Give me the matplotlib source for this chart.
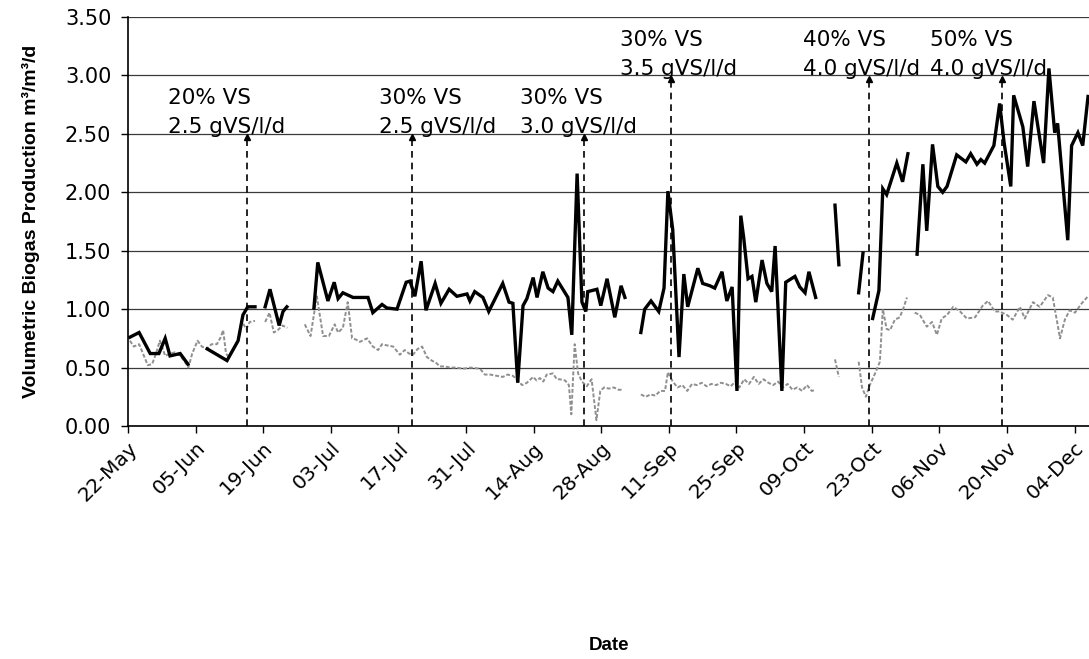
import numpy as np
import matplotlib
matplotlib.use("Agg")
import matplotlib.pyplot as plt

# x values are days after 22-May; None marks a gap in the record
black_day = [0.4, 2.3, 4.6, 6.4, 7.7, 8.7, 10.8, 12.4, None,
             16.4, 20.5, 22.8, 23.8, 24.8, 26.3, None,
             28.4, 29.4, 31.3, 32.1, 32.9, None,
             38.5, 39.3, 41.4, 42.7, 43.5, 44.5, 46.6, 49.7, 50.7, 52.6, 53.6, 55.7, 57.6, 58.4,
             59.4, 60.7, 61.7, 63.6, 64.8, 66.5, 68.1, 70.2, 70.8, 71.8, 73.5, 74.7, 77.6, 78.9,
             79.7, 80.7, 81.8, 82.6, 83.9, 84.7, 85.9, 87.0, 88.0, 89.0, 91.1, 91.9, 93.0, 94.0,
             94.8, 95.2, 97.1, 97.9, 99.2, 100.8, 102.1, 102.9, None,
             106.2, 107.0, 108.3, 109.9, 111.0, 111.8, 112.8, 114.1, 115.1, 115.9, 118.0, 119.0,
             120.5, 121.5, 123.0, 124.0, 125.1, 126.1, 126.9, 127.5, 128.4, 129.2, 130.0, 131.3,
             132.3, 133.3, 134.0, 135.4, 136.2, 138.1, 139.1, 140.2, 141.0, 142.4, None,
             146.4, 147.2, None,
             151.3, 152.2, None,
             154.2, 155.5, 156.3, 157.1, 159.2, 160.4, 161.5, None,
             163.4, 164.6, 165.4, 166.6, 167.7, 168.7, 169.6, 171.6, 173.5, 174.5, 175.8, 176.6,
             177.4, 179.3, 180.5, 181.4, 182.8, 183.4, 185.3, 186.3, 187.6, 189.6, 190.7, 191.9,
             192.5, 194.6, 195.4, 196.7, 197.7, 198.8]
black_val = [0.76, 0.80, 0.62, 0.62, 0.75, 0.60, 0.62, 0.53, None,
             0.66, 0.56, 0.73, 0.95, 1.02, 1.02, None,
             1.02, 1.17, 0.86, 0.98, 1.02, None,
             1.01, 1.40, 1.07, 1.23, 1.09, 1.14, 1.10, 1.10, 0.97, 1.04, 1.01, 1.00, 1.23, 1.24,
             1.11, 1.41, 0.99, 1.22, 1.05, 1.17, 1.11, 1.13, 1.07, 1.15, 1.10, 0.98, 1.22, 1.06,
             1.05, 0.37, 1.03, 1.09, 1.27, 1.10, 1.32, 1.18, 1.15, 1.24, 1.10, 0.78, 2.16, 1.06,
             0.98, 1.15, 1.17, 1.03, 1.26, 0.93, 1.20, 1.10, None,
             0.80, 1.00, 1.07, 0.98, 1.18, 2.01, 1.68, 0.59, 1.30, 1.02, 1.35, 1.22,
             1.20, 1.18, 1.32, 1.07, 1.19, 0.30, 1.80, 1.61, 1.26, 1.28, 1.06, 1.42,
             1.22, 1.15, 1.54, 0.30, 1.23, 1.28, 1.19, 1.14, 1.32, 1.10, None,
             1.89, 1.38, None,
             1.14, 1.48, None,
             0.92, 1.16, 2.03, 1.98, 2.25, 2.09, 2.33, None,
             1.47, 2.24, 1.67, 2.41, 2.05, 2.00, 2.05, 2.32, 2.26, 2.33, 2.24, 2.28,
             2.25, 2.40, 2.76, 2.43, 2.05, 2.83, 2.56, 2.22, 2.78, 2.25, 3.06, 2.51,
             2.59, 1.59, 2.40, 2.51, 2.40, 2.82]

gray_day = [0.4, 1.2, 2.3, 3.3, 4.1, 5.0, 5.8, 6.6, 7.7, 8.7, 9.7, 10.8, 11.6, 12.5, 13.3, 14.4,
            15.3, 16.3, 17.3, 18.4, 19.2, 19.7, 20.3, 20.9, 21.8, 22.8, 23.5, 24.5, 25.2, 26.3, None,
            28.4, 29.3, 30.2, 31.0, 32.0, 33.0, None,
            36.6, 37.8, 39.1, 40.4, 41.6, 42.8, 43.5, 44.5, 45.5, 46.4, 47.2, 48.0, 49.5, 50.7,
            51.8, 52.6, 53.6, 54.9, 56.3, 57.3, 58.2, 59.0, 60.0, 60.9, 61.9, 62.9, 63.8, 64.6,
            65.6, 66.7, 68.0, 69.4, 71.0, 72.9, 73.9, 75.0, 76.3, 77.6, 78.6, 79.7, 80.7, 81.6,
            82.6, 83.9, 84.6, 85.3, 86.0, 86.7, 88.0, 88.8, 89.4, 90.5, 91.3, 91.8, 92.5, 93.2,
            94.0, 95.0, 96.0, 97.0, 97.8, 98.6, 99.6, 100.6, 101.6, 102.6, None,
            106.2, 107.2, 108.2, 109.2, 110.2, 111.2, 111.8, 112.8, 113.8, 114.8, 115.8, 116.8,
            117.8, 118.8, 119.8, 120.8, 121.8, 122.8, 123.8, 124.8, 125.8, 126.6, 127.6, 128.6,
            129.6, 130.6, 131.6, 132.6, 133.6, 134.6, 135.6, 136.6, 137.6, 138.6, 139.6, 140.6,
            141.6, 142.4, None,
            146.4, 147.2, None,
            151.3, 152.0, 152.8, 153.6, 154.7, 155.7, 156.3, 157.1, 157.8, 158.8, 159.8, 160.5,
            161.3, None,
            162.9, 164.0, 165.4, 166.5, 167.5, 168.5, 169.6, 170.9, 172.3, 173.7, 175.4, 177.0,
            178.1, 179.5, 180.5, 182.0, 183.2, 184.7, 185.7, 187.4, 188.8, 190.5, 191.5, 193.0,
            194.0, 195.0, 196.1, 197.5, 198.8]
gray_val = [0.73, 0.68, 0.70, 0.60, 0.52, 0.53, 0.62, 0.73, 0.60, 0.62, 0.63, 0.60, 0.56, 0.50, 0.62, 0.73,
            0.68, 0.66, 0.70, 0.70, 0.76, 0.82, 0.62, 0.59, 0.66, 0.73, 0.90, 0.83, 0.89, 0.90, None,
            0.89, 0.97, 0.80, 0.82, 0.86, 0.84, None,
            0.87, 0.77, 1.11, 0.77, 0.77, 0.87, 0.80, 0.84, 1.06, 0.75, 0.74, 0.72, 0.75, 0.68,
            0.65, 0.70, 0.69, 0.68, 0.61, 0.65, 0.62, 0.61, 0.66, 0.68, 0.59, 0.56, 0.54, 0.51,
            0.51, 0.50, 0.50, 0.49, 0.50, 0.49, 0.44, 0.44, 0.43, 0.42, 0.44, 0.43, 0.39, 0.35,
            0.37, 0.42, 0.39, 0.41, 0.38, 0.44, 0.45, 0.40, 0.40, 0.39, 0.35, 0.10, 0.70, 0.45,
            0.38, 0.34, 0.40, 0.05, 0.30, 0.33, 0.32, 0.33, 0.31, 0.31, None,
            0.27, 0.25, 0.27, 0.26, 0.30, 0.30, 0.46, 0.38, 0.33, 0.35, 0.30, 0.36,
            0.35, 0.37, 0.34, 0.36, 0.35, 0.37, 0.36, 0.34, 0.38, 0.33, 0.40, 0.36,
            0.42, 0.36, 0.40, 0.37, 0.35, 0.38, 0.33, 0.36, 0.31, 0.33, 0.30, 0.35,
            0.30, 0.31, None,
            0.57, 0.42, None,
            0.55, 0.33, 0.25, 0.35, 0.45, 0.55, 1.00, 0.83, 0.82, 0.91, 0.93, 1.00,
            1.10, None,
            0.97, 0.95, 0.85, 0.89, 0.78, 0.92, 0.95, 1.02, 0.98, 0.92, 0.93, 1.03,
            1.07, 0.98, 0.98, 0.95, 0.91, 1.02, 0.92, 1.06, 1.02, 1.12, 1.10, 0.75,
            0.91, 0.99, 0.97, 1.05, 1.11]

# feeding changes: day of change, arrow top, label lines
change_day = [24.6, 58.8, 94.4, 112.4, 153.4, 180.9]
change_top = [2.50, 2.50, 2.50, 3.00, 3.00, 3.00]
change_vs = ["20% VS", "30% VS", "30% VS", "30% VS", "40% VS", "50% VS"]
change_olr = ["2.5 gVS/l/d", "2.5 gVS/l/d", "3.0 gVS/l/d", "3.5 gVS/l/d", "4.0 gVS/l/d", "4.0 gVS/l/d"]
label_day = [8.3, 52.0, 81.2, 101.9, 139.8, 166.0]

tick_day = [0, 14, 28, 42, 56, 70, 84, 98, 112, 126, 140, 154, 168, 182, 196]
tick_lab = ["22-May", "05-Jun", "19-Jun", "03-Jul", "17-Jul", "31-Jul", "14-Aug", "28-Aug",
            "11-Sep", "25-Sep", "09-Oct", "23-Oct", "06-Nov", "20-Nov", "04-Dec"]


def nanify(a):
    return np.array([np.nan if v is None else v for v in a], dtype=float)


plt.rcParams['font.family'] = ['DejaVu Sans']
bold_font = ['Liberation Sans', 'DejaVu Sans']

fig = plt.figure(figsize=(10.89, 6.59), dpi=100)
ax = fig.add_axes([128/1089, 1-426/659, 961/1089, 409/659])

ax.plot(nanify(gray_day), nanify(gray_val), color="#8f8f8f", lw=1.4, ls=(0, (2, 1)), zorder=3)
ax.plot(nanify(black_day), nanify(black_val), color="black", lw=2.4, zorder=4,
        solid_joinstyle="miter")

for d, top, vs, olr, ld in zip(change_day, change_top, change_vs, change_olr, label_day):
    ax.plot([d, d], [0, top - 0.03], color="black", lw=1.2, ls=(0, (4, 3)), zorder=5)
    ax.plot([d], [top - 0.03], marker="^", ms=4.5, color="black", zorder=5, clip_on=False)
    ax.text(ld, top + 0.005, olr, fontsize=15.5, ha="left", va="baseline", zorder=6)
    ax.text(ld, top + 0.255, vs, fontsize=15.5, ha="left", va="baseline", zorder=6)

ax.set_xlim(0, 199)
ax.set_ylim(0, 3.5)
ax.set_yticks(np.arange(0, 3.51, 0.5))
ax.set_yticklabels(["%.2f" % v for v in np.arange(0, 3.51, 0.5)], fontsize=15)
ax.set_xticks(tick_day)
ax.set_xticklabels(tick_lab, fontsize=14.5, rotation=45, ha="right", rotation_mode="anchor")
ax.tick_params(axis="x", length=5, width=1, pad=4)
ax.tick_params(axis="y", length=5, width=1, pad=7)

ax.grid(axis="y", color="#3a3a3a", lw=0.9)
ax.set_axisbelow(True)
for s in ["top", "right"]:
    ax.spines[s].set_visible(False)
for s in ["left", "bottom"]:
    ax.spines[s].set_linewidth(1.2)

ax.set_ylabel("Volumetric Biogas Production m³/m³/d", fontsize=14, fontweight="bold",
              family=bold_font)
ax.yaxis.set_label_coords(-88/961, 0.5)
ax.set_xlabel("Date", fontsize=13.5, fontweight="bold", family=bold_font)
ax.xaxis.set_label_coords(0.5, -(637-426)/409)

fig.savefig("out.png", dpi=100)
